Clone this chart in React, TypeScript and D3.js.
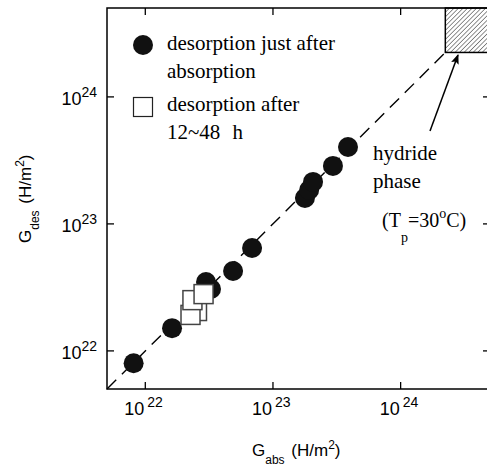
import * as d3 from "d3";

// values (H/m^2)
const justAfterAbs = [8.1e21, 1.62e22, 2.99e22, 3.27e22, 4.87e22, 6.86e22, 1.78e23, 1.92e23, 2.06e23, 2.95e23, 3.87e23];
const justAfterDes = [8.0e21, 1.51e22, 3.48e22, 3.07e22, 4.26e22, 6.46e22, 1.6e23, 1.85e23, 2.14e23, 2.86e23, 4.03e23];

const laterAbs = [2.54e22, 2.26e22, 2.34e22, 2.86e22];
const laterDes = [2.06e22, 1.92e22, 2.51e22, 2.8e22];

const tickValues = [1e22, 1e23, 1e24];
const tickExps = ["22", "23", "24"];

const hydrideFrom = Math.pow(10, 24.35);

export default function App() {
  const width = 487;
  const height = 470;
  const marginLeft = 107;
  const marginTop = 8;
  const plotRight = 490;
  const plotBottom = 389;

  const lo = Math.pow(10, 21.7);
  const hi = Math.pow(10, 24.7);

  const xScale = d3.scaleLog().domain([lo, hi]).range([marginLeft, plotRight]);
  const yScale = d3.scaleLog().domain([lo, hi]).range([plotBottom, marginTop]);

  const circles = justAfterAbs.map((a, i) => ({ x: a, y: justAfterDes[i] }));
  const squares = laterAbs.map((a, i) => ({ x: a, y: laterDes[i] }));

  const tickLen = 7;
  const serif = "'Liberation Serif', 'Times New Roman', serif";
  const sans = "'Liberation Sans', Arial, sans-serif";

  const diag = d3.line<number>()
    .x((d) => xScale(d))
    .y((d) => yScale(d));

  return (
    <svg
      width={width}
      height={height}
      style={{ position: "absolute", left: 0, top: 0, background: "white" }}
    >
      <defs>
        <pattern id="hatch" width="3.2" height="3.2" patternUnits="userSpaceOnUse" patternTransform="rotate(45)">
          <line x1="0" y1="0" x2="0" y2="3.2" stroke="#222" strokeWidth="1" />
        </pattern>
        <marker id="arrow" viewBox="0 0 10 10" refX="9" refY="5" markerWidth="10" markerHeight="10" markerUnits="userSpaceOnUse" orient="auto">
          <path d="M0,1 L10,5 L0,9 L2,5 Z" fill="black" />
        </marker>
      </defs>

      {/* hydride phase box */}
      <rect
        x={xScale(hydrideFrom)}
        y={yScale(hi)}
        width={xScale(hi) - xScale(hydrideFrom)}
        height={yScale(hydrideFrom) - yScale(hi)}
        fill="url(#hatch)"
        stroke="black"
        strokeWidth={1.5}
      />

      {/* y = x dashed line */}
      <path
        d={diag([lo, hydrideFrom]) ?? ""}
        fill="none"
        stroke="black"
        strokeWidth={1.4}
        strokeDasharray="13,8"
      />

      {/* frame */}
      <rect
        x={marginLeft}
        y={marginTop}
        width={plotRight - marginLeft}
        height={plotBottom - marginTop}
        fill="none"
        stroke="black"
        strokeWidth={1.5}
      />

      {/* ticks */}
      {tickValues.map((t) => (
        <g key={t} stroke="black" strokeWidth={1.3}>
          <line x1={xScale(t)} x2={xScale(t)} y1={plotBottom} y2={plotBottom - tickLen} />
          <line x1={xScale(t)} x2={xScale(t)} y1={marginTop} y2={marginTop + tickLen} />
          <line x1={marginLeft} x2={marginLeft + tickLen} y1={yScale(t)} y2={yScale(t)} />
          <line x1={plotRight} x2={plotRight - tickLen} y1={yScale(t)} y2={yScale(t)} />
        </g>
      ))}

      {/* x tick labels */}
      {tickValues.map((t, i) => (
        <text key={t} x={xScale(t) - 21} y={415} fontFamily={sans} fontSize={18}>
          10
          <tspan dx={3} dy={-8} fontSize={14}>{tickExps[i]}</tspan>
        </text>
      ))}

      {/* y tick labels */}
      {tickValues.map((t, i) => (
        <text key={t} x={97} y={yScale(t) + 8} fontFamily={sans} fontSize={18} textAnchor="end">
          10
          <tspan dy={-8} fontSize={14}>{tickExps[i]}</tspan>
        </text>
      ))}

      {/* axis labels */}
      <text x={252} y={456} fontFamily={sans} fontSize={17}>
        G
        <tspan dy={8} fontSize={12}>abs</tspan>
        <tspan dy={-8} dx={2}> (H/m</tspan>
        <tspan dy={-7} fontSize={12}>2</tspan>
        <tspan dy={7}>)</tspan>
      </text>
      <text transform="translate(31,243) rotate(-90)" fontFamily={sans} fontSize={17}>
        G
        <tspan dy={8} fontSize={12}>des</tspan>
        <tspan dy={-8} dx={2}> (H/m</tspan>
        <tspan dy={-7} fontSize={12}>2</tspan>
        <tspan dy={7}>)</tspan>
      </text>

      {/* data */}
      {circles.map((d, i) => (
        <circle key={"c" + i} cx={xScale(d.x)} cy={yScale(d.y)} r={10} fill="#111" />
      ))}
      {squares.map((d, i) => (
        <rect
          key={"s" + i}
          x={xScale(d.x) - 9.5}
          y={yScale(d.y) - 9.5}
          width={19}
          height={19}
          fill="white"
          stroke="#444"
          strokeWidth={1.5}
        />
      ))}

      {/* legend */}
      <circle cx={143} cy={45} r={10} fill="#111" />
      <text x={167} y={50} fontFamily={serif} fontSize={21}>desorption just after</text>
      <text x={167} y={78} fontFamily={serif} fontSize={21}>absorption</text>
      <rect x={133.5} y={97.5} width={19} height={19} fill="white" stroke="#222" strokeWidth={1.2} />
      <text x={167} y={111} fontFamily={serif} fontSize={21}>desorption after</text>
      <text x={167} y={139} fontFamily={serif} fontSize={21}>
        12~48
        <tspan dx={12}>h</tspan>
      </text>

      {/* hydride annotation */}
      <line x1={430} y1={131} x2={458} y2={55} stroke="black" strokeWidth={1.5} markerEnd="url(#arrow)" />
      <text x={373} y={160} fontFamily={serif} fontSize={21}>hydride</text>
      <text x={373} y={188} fontFamily={serif} fontSize={21}>phase</text>
      <text x={382} y={227} fontFamily={serif} fontSize={20}>
        (T
        <tspan dy={15} fontSize={14}>p</tspan>
        <tspan dy={-15}>=30</tspan>
        <tspan dy={-9} fontSize={14}>o</tspan>
        <tspan dy={9}>C)</tspan>
      </text>
    </svg>
  );
}
